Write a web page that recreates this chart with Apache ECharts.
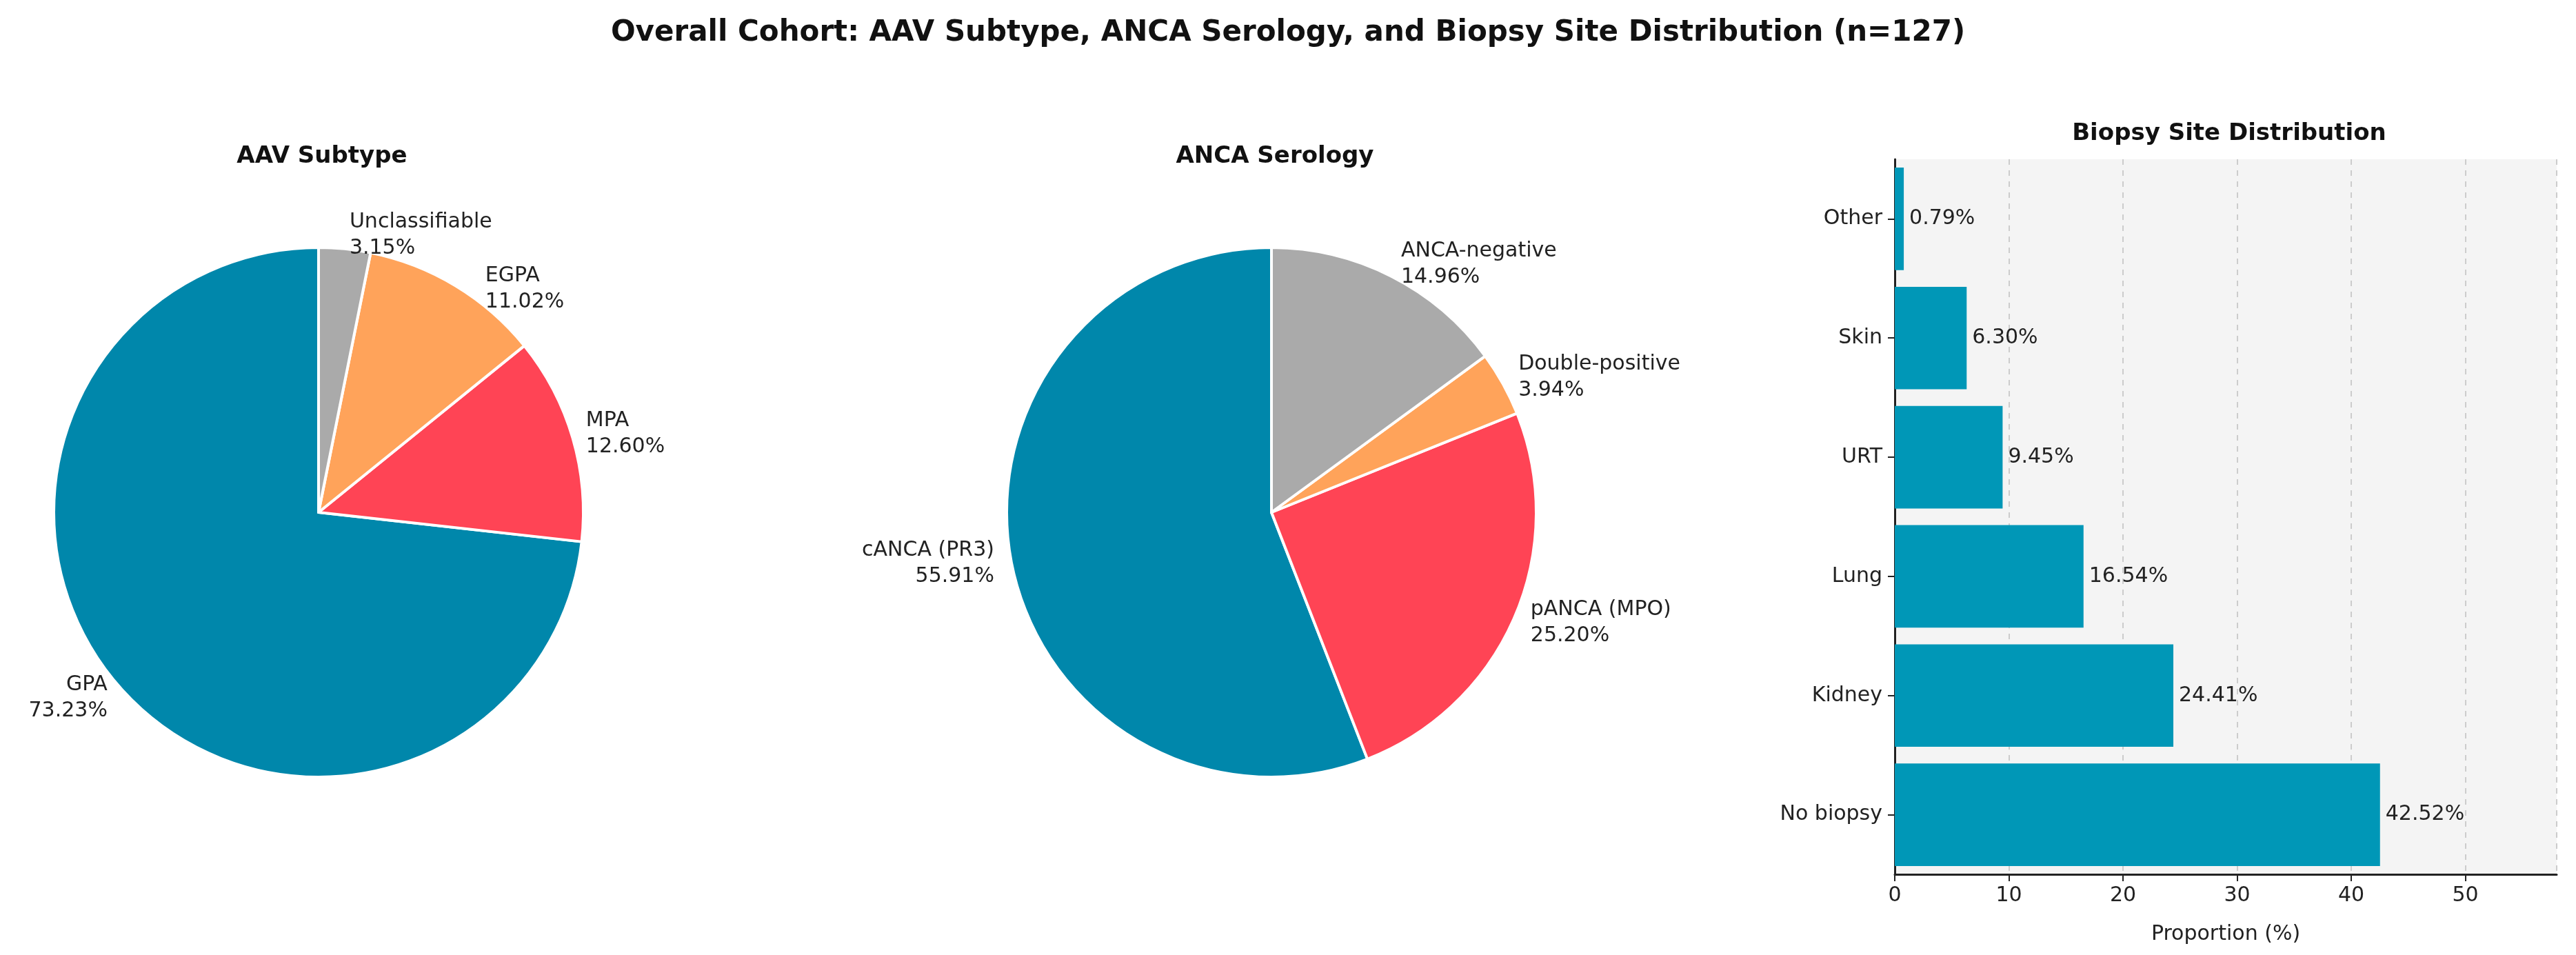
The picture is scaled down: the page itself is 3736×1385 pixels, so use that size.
<!DOCTYPE html>
<html>
<head>
<meta charset="utf-8">
<script src="https://cdn.jsdelivr.net/npm/echarts@6/dist/echarts.min.js"></script>
<style>html,body{margin:0;background:#fff}#main{width:3736px;height:1385px}</style>
</head>
<body>
<div id="main"></div>
<script>
var myChart = echarts.init(document.getElementById('main'));

// AAV subtype (%)
var subtypeNames = ['GPA', 'MPA', 'EGPA', 'Unclassifiable'];
var subtypeVals = [73.23, 12.60, 11.02, 3.15];
// ANCA serology (%)
var seroNames = ['cANCA (PR3)', 'pANCA (MPO)', 'Double-positive', 'ANCA-negative'];
var seroVals = [55.91, 25.20, 3.94, 14.96];
// biopsy site (%), bottom to top
var siteNames = ['No biopsy', 'Kidney', 'Lung', 'URT', 'Skin', 'Other'];
var siteVals = [42.52, 24.41, 16.54, 9.45, 6.30, 0.79];
var xTicks = [0, 10, 20, 30, 40, 50];

var pieColors = ['#0087ab', '#ff4455', '#ffa35a', '#aaaaaa'];
var font = 'DejaVu Sans';

function pieData(names, vals) {
    return names.map(function (n, i) {
        return { name: n, value: vals[i], itemStyle: { color: pieColors[i] } };
    });
}

function pieSeries(names, vals, cx) {
    return {
        type: 'pie',
        center: [cx, 743],
        radius: [0, 384],
        startAngle: 90,
        clockwise: false,
        animation: false,
        itemStyle: { borderColor: '#fff', borderWidth: 4 },
        label: {
            position: 'outside',
            formatter: function (p) { return p.name + '\n' + p.value.toFixed(2) + '%'; },
            fontFamily: font,
            fontSize: 30,
            color: '#222',
            lineHeight: 38
        },
        labelLine: { show: false, length: 20, length2: 0 },
        emphasis: { disabled: true },
        data: pieData(names, vals)
    };
}

var option = {
    textStyle: { fontFamily: font },
    title: [
        { text: 'Overall Cohort: AAV Subtype, ANCA Serology, and Biopsy Site Distribution (n=127)',
          left: 'center', top: 22, textStyle: { fontFamily: font, fontSize: 42, fontWeight: 'bold', color: '#111' } },
        { text: 'AAV Subtype', left: 462, textAlign: 'center', top: 205,
          textStyle: { fontFamily: font, fontSize: 34, fontWeight: 'bold', color: '#111' } },
        { text: 'ANCA Serology', left: 1844, textAlign: 'center', top: 205,
          textStyle: { fontFamily: font, fontSize: 34, fontWeight: 'bold', color: '#111' } },
        { text: 'Biopsy Site Distribution', left: 3228, textAlign: 'center', top: 172,
          textStyle: { fontFamily: font, fontSize: 34, fontWeight: 'bold', color: '#111' } }
    ],
    grid: { left: 2748, top: 231, width: 960, height: 1037, backgroundColor: '#f4f4f4', show: true, borderWidth: 0 },
    xAxis: {
        type: 'value', min: 0, max: 58, interval: 10,
        name: 'Proportion (%)', nameLocation: 'middle', nameGap: 72,
        nameTextStyle: { fontFamily: font, fontSize: 30, color: '#222' },
        axisLine: { show: true, lineStyle: { color: '#222', width: 3 } },
        axisTick: { show: true, length: 10, lineStyle: { color: '#222', width: 2 } },
        axisLabel: { fontFamily: font, fontSize: 30, color: '#222', margin: 16, showMaxLabel: false,
            formatter: function (v) { return xTicks.indexOf(v) >= 0 ? v : ''; } },
        splitLine: { show: true, lineStyle: { color: '#cccccc', type: [8, 8], width: 2 } }
    },
    yAxis: {
        type: 'category', data: siteNames,
        axisLine: { show: true, lineStyle: { color: '#222', width: 3 } },
        axisTick: { show: true, alignWithLabel: true, length: 10, lineStyle: { color: '#222', width: 2 } },
        axisLabel: { fontFamily: font, fontSize: 30, color: '#222', margin: 18 },
        splitLine: { show: false }
    },
    series: [
        pieSeries(subtypeNames, subtypeVals, 462),
        pieSeries(seroNames, seroVals, 1844),
        {
            type: 'bar',
            data: siteVals,
            barWidth: '86%',
            animation: false,
            itemStyle: { color: '#0097b7' },
            label: {
                show: true, position: 'right', distance: 8,
                formatter: function (p) { return p.value.toFixed(2) + '%'; },
                fontFamily: font, fontSize: 30, color: '#222'
            }
        }
    ]
};
myChart.setOption(option);
</script>
</body>
</html>
